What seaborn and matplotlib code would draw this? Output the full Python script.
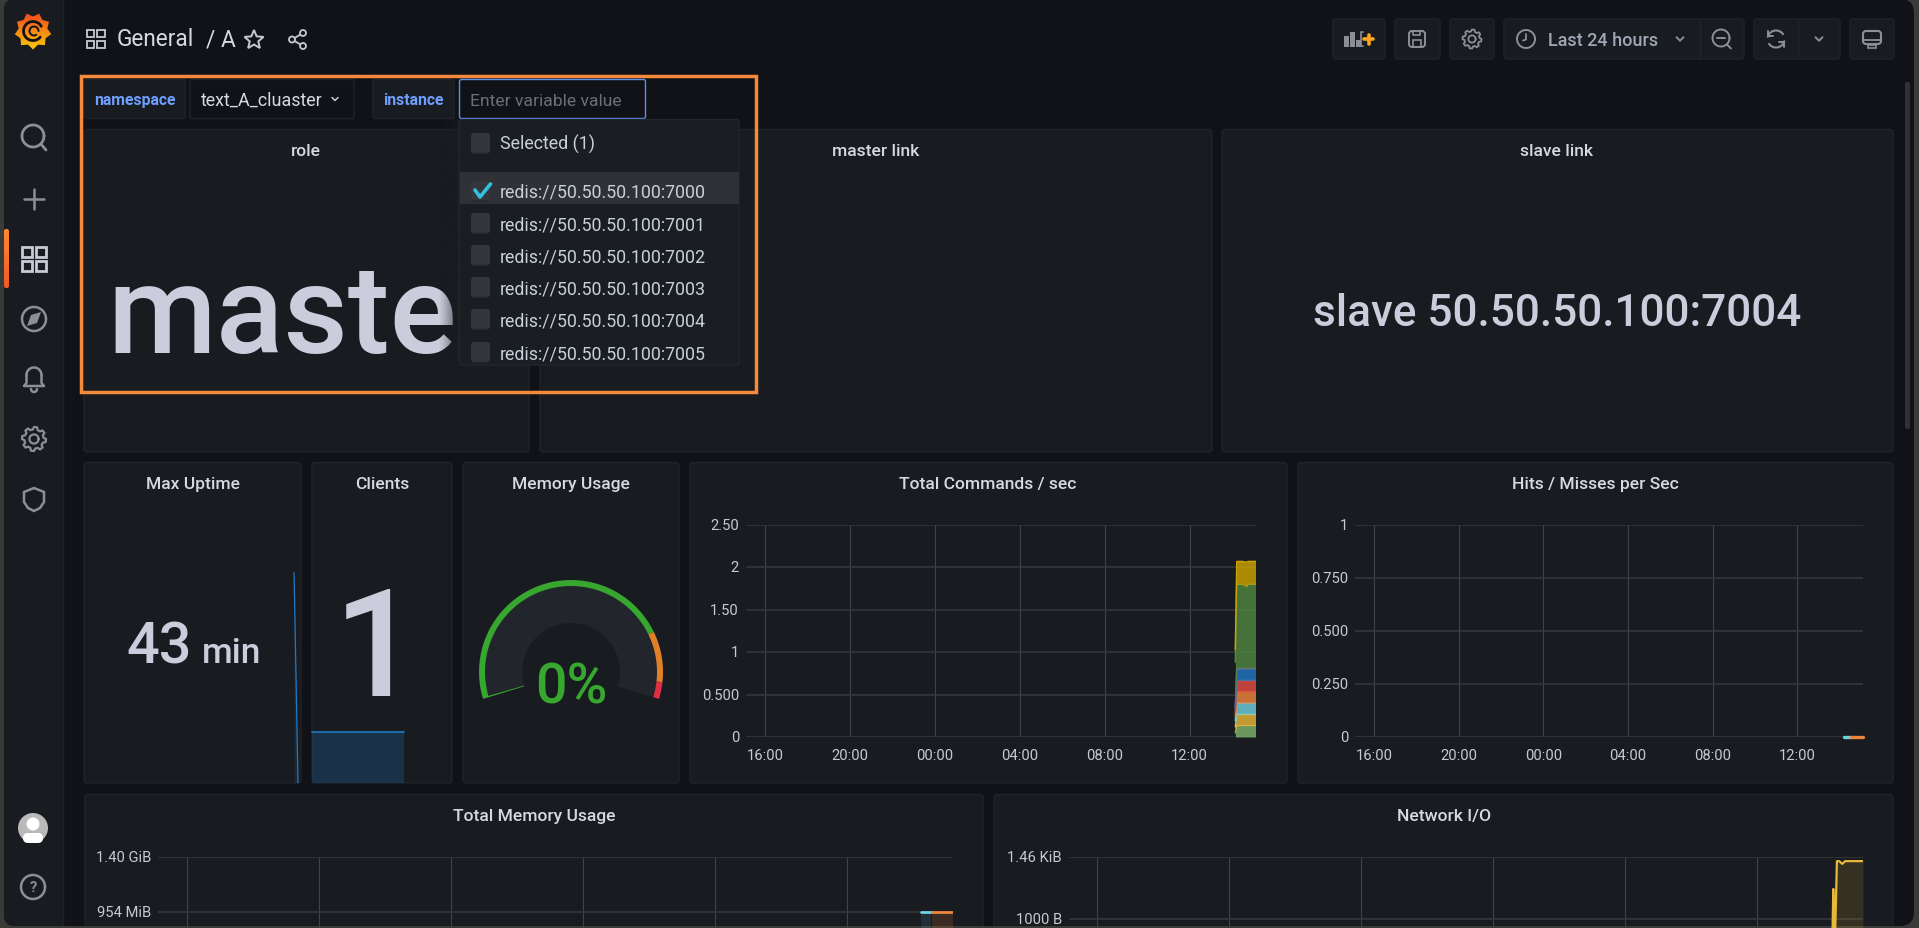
import numpy as np
import pandas as pd
import matplotlib
matplotlib.use("Agg")
import matplotlib.pyplot as plt
from matplotlib.patches import FancyBboxPatch, Polygon, Circle, Rectangle
from matplotlib.colors import LinearSegmentedColormap
from matplotlib.transforms import ScaledTranslation
import seaborn as sns

# ---------- data ----------
time_ticks = [16, 20, 24, 28, 32, 36]
time_labels = ["16:00", "20:00", "00:00", "04:00", "08:00", "12:00"]

cmd_times = [38.15, 38.22, 38.5, 38.68, 38.74, 39.1]
cmd_green = [0.05, 0.133, 0.133, 0.133, 0.133, 0.133]
cmd_gold = [0.07, 0.134, 0.134, 0.134, 0.134, 0.134]
cmd_cyan = [0.07, 0.133, 0.133, 0.133, 0.133, 0.133]
cmd_orange = [0.05, 0.133, 0.133, 0.133, 0.133, 0.133]
cmd_red = [0.06, 0.134, 0.134, 0.134, 0.134, 0.134]
cmd_blue = [0.03, 0.133, 0.133, 0.133, 0.133, 0.133]
cmd_purple = [0.02, 0.01, 0.01, 0.01, 0.01, 0.01]
cmd_dkgreen = [0.53, 0.99, 0.99, 0.96, 0.99, 0.99]
cmd_dkgold = [0.15, 0.27, 0.27, 0.29, 0.27, 0.27]
cmd_series = [cmd_green, cmd_gold, cmd_cyan, cmd_orange, cmd_red, cmd_blue,
              cmd_purple, cmd_dkgreen, cmd_dkgold]
cmd_colors = ["#7eb26d", "#eab839", "#6ed0e0", "#ef843c", "#e24d42", "#1f78c1",
              "#705da0", "#508642", "#cca300"]
cmd_ticks = [0, 0.5, 1, 1.5, 2, 2.5]
cmd_ticklabels = ["0", "0.500", "1", "1.50", "2", "2.50"]

hits_ticks = [0, 0.25, 0.5, 0.75, 1]
hits_ticklabels = ["0", "0.250", "0.500", "0.750", "1"]
hits_a_t = [38.2, 38.55]
hits_a = [0, 0]
hits_b_t = [38.55, 39.1]
hits_b = [0, 0]

mem_a_t = [38.24, 38.54]
mem_a = [950, 950]
mem_b_t = [38.57, 39.2]
mem_b = [950, 950]
mem_ticks = [954, 1433.6]
mem_ticklabels = ["954 MiB", "1.40 GiB"]

net_t = [38.27, 38.30, 38.35, 38.41, 38.48, 38.57, 38.66, 39.2]
net_v = [800, 1240, 800, 1462, 1462, 1440, 1462, 1462]
net_ticks = [1000, 1495]
net_ticklabels = ["1000 B", "1.46 KiB"]

uptime_t = [38.33, 38.77]
uptime_v = [43, 0]
clients_t = [15.1, 30.85]
clients_v = [1, 1]

gauge_value = 0
gauge_limits = [0, 80, 95, 100]
gauge_colors = ["#37a72f", "#e0802b", "#e02f44"]

instances = ["redis://50.50.50.100:7000", "redis://50.50.50.100:7001",
             "redis://50.50.50.100:7002", "redis://50.50.50.100:7003",
             "redis://50.50.50.100:7004", "redis://50.50.50.100:7005"]

# ---------- style ----------
W, H = 1919, 929
BG = "#111217"; PANEL = "#181b1f"; EDGE = "#212327"; ICON = "#8e8f96"; TXT = "#ccccdc"
GRID_H = "#35383c"; GRID_V = "#3f4246"; TICK = "#c7cad0"
sns.set_theme(style="dark", rc={"figure.facecolor": BG, "axes.facecolor": "none",
                                "savefig.facecolor": BG})
plt.rcParams["font.family"] = ["Roboto", "DejaVu Sans"]

fig = plt.figure(figsize=(W / 100, H / 100), dpi=100)


def overlay(z):
    a = fig.add_axes([0, 0, 1, 1], zorder=z)
    a.set_xlim(0, W); a.set_ylim(H, 0); a.axis("off"); a.set_autoscale_on(False)
    return a


under = overlay(0)
top = overlay(5)


def box(a, x0, y0, x1, y1, fc, ec="none", r=3, lw=1.0, z=1):
    a.add_patch(FancyBboxPatch((x0, y0), x1 - x0, y1 - y0, boxstyle=f"round,pad=0,rounding_size={r}",
                               fc=fc, ec=ec, lw=lw, zorder=z))


def arc_pts(cx, cy, r, a0, a1, n=60):
    th = np.radians(np.linspace(a0, a1, n))
    return cx + r * np.cos(th), cy - r * np.sin(th)


def arc(a, cx, cy, r, a0=0, a1=360, c=ICON, lw=2, z=3):
    x, y = arc_pts(cx, cy, r, a0, a1)
    a.plot(x, y, color=c, lw=lw, zorder=z, solid_capstyle="round")


def seg(a, xs, ys, c=ICON, lw=2, z=3):
    a.plot(xs, ys, color=c, lw=lw, zorder=z, solid_capstyle="round", solid_joinstyle="round")


def ring(a, cx, cy, r0, r1, a0, a1, c, z=2):
    xo, yo = arc_pts(cx, cy, r1, a0, a1)
    xi, yi = arc_pts(cx, cy, r0, a1, a0)
    a.add_patch(Polygon(np.c_[np.r_[xo, xi], np.r_[yo, yi]], fc=c, ec="none", zorder=z))


def gridicon(a, cx, cy, s, c=ICON, lw=2):
    q = s * 0.40
    for dx in (-s / 2, s / 2 - q):
        for dy in (-s / 2, s / 2 - q):
            a.add_patch(Rectangle((cx + dx, cy + dy), q, q, fc="none", ec=c, lw=lw, zorder=3))


def gear(a, cx, cy, r, c=ICON, lw=1.8):
    ang = np.radians(np.arange(0, 360, 7.5))
    rr = r * np.where((np.arange(48) % 6) < 3, 1.0, 0.8)
    a.add_patch(Polygon(np.c_[cx + rr * np.cos(ang), cy + rr * np.sin(ang)], fc="none", ec=c, lw=lw, zorder=3))
    arc(a, cx, cy, r * 0.38, c=c, lw=lw)


def chevron(a, cx, cy, s=3.5, c=ICON, lw=1.4):
    seg(a, [cx - s, cx, cx + s], [cy - s / 2, cy + s / 2, cy - s / 2], c=c, lw=lw)


def gradient(a, x0, y0, x1, y1, c0, c1, clip=None, z=2):
    cm = LinearSegmentedColormap.from_list("g", [c0, c1])
    im = a.imshow(np.linspace(0, 1, 64)[:, None], extent=(x0, x1, y1, y0), cmap=cm, aspect="auto", zorder=z)
    a.set_xlim(0, W); a.set_ylim(H, 0)
    if clip is not None:
        im.set_clip_path(clip)


# ---------- window & sidebar ----------
under.add_patch(Rectangle((0, 0), W, H, fc="#3a3a38", ec="none", zorder=0))
box(under, 4, 0, 1914, 927, BG, r=14, z=0.5)
box(under, 4, 0, 63, 927, PANEL, r=10, z=0.6)
under.add_patch(Rectangle((20, 0), 43, 927, fc=PANEL, ec="none", zorder=0.6))
under.plot([63, 63], [0, 927], color="#202226", lw=1, zorder=0.7)

# logo
ang = np.radians(np.arange(0, 360, 20) + 10)
rad = np.where(np.arange(18) % 2 == 0, 18.5, 14.5)
logo = Polygon(np.c_[33 + rad * np.cos(ang), 32 + rad * np.sin(ang)], fc="none", ec="none", transform=under.transData)
under.add_patch(logo)
gradient(under, 14, 13, 52, 51, "#f0471f", "#fbca0a", clip=logo, z=2)
arc(under, 33, 32, 9.5, 30, 320, c=BG, lw=2)
arc(under, 34, 32, 4.5, 0, 300, c=BG, lw=1.4)

# active marker
marker = FancyBboxPatch((4, 230), 5, 59, boxstyle="round,pad=0,rounding_size=2", fc="none", ec="none",
                        transform=under.transData)
under.add_patch(marker)
gradient(under, 4, 230, 9, 289, "#ff8833", "#f05a28", clip=marker, z=2)

arc(under, 33, 137, 11, c=ICON, lw=2.0)
seg(under, [41, 46], [145, 151], lw=2.0)
seg(under, [24, 44], [200, 200], lw=1.8)
seg(under, [34, 34], [190, 210], lw=1.8)
gridicon(under, 34, 260, 24, c="#c9cad6", lw=2.0)
arc(under, 34, 320, 12, c=ICON, lw=1.8)
under.add_patch(Polygon([(41, 313), (37, 324), (27, 327), (31, 316)], fc=ICON, ec="none", zorder=3))
arc(under, 34, 376, 7.5, 0, 180, lw=1.8)
seg(under, [26.5, 26.5, 24, 44, 41.5, 41.5], [376, 384, 387, 387, 384, 376], lw=1.8)
arc(under, 34, 390, 3, 180, 360, lw=1.8)
gear(under, 34, 440, 12, lw=1.6)
under.add_patch(Polygon([(34, 489), (44, 493), (44, 503), (40, 509), (34, 512), (28, 509), (24, 503), (24, 493)],
                        fc="none", ec=ICON, lw=1.8, zorder=3))
under.add_patch(Circle((33, 829), 15, fc="#b9b9b9", ec="none", zorder=3))
under.add_patch(Circle((33, 825), 6.5, fc="white", ec="none", zorder=3))
under.add_patch(FancyBboxPatch((23, 834), 20, 10, boxstyle="round,pad=0,rounding_size=5", fc="white", ec="none", zorder=3))
arc(under, 33, 888, 12, c=ICON, lw=1.8)
under.text(33, 888.5, "?", color=ICON, fontsize=10.5, weight="bold", ha="center", va="center", zorder=3)

# ---------- header ----------
gridicon(under, 95.5, 40, 18, c="#c7c8d2", lw=1.3)
under.text(117, 46, "General", color="#d8d9e0", fontsize=16.3, va="baseline", ha="left")
under.text(206, 46, "/ A", color="#d8d9e0", fontsize=16.3, va="baseline", ha="left")
star_a = np.radians(np.arange(0, 360, 36) - 90)
star_r = np.where(np.arange(10) % 2 == 0, 10, 4.5)
under.add_patch(Polygon(np.c_[254 + star_r * np.cos(star_a), 41 + star_r * np.sin(star_a)], fc="none",
                        ec="#c7c8d2", lw=1.4, zorder=3))
seg(under, [303, 292, 303], [34, 40.5, 47], c="#c7c8d2", lw=1.3)
for px, py in [(303, 34), (292, 40.5), (303, 47)]:
    under.add_patch(Circle((px, py), 3, fc=BG, ec="#c7c8d2", lw=1.3, zorder=4))

for x0, x1 in [(1333, 1385), (1395, 1440), (1450, 1494), (1504, 1744), (1754, 1840), (1850, 1894)]:
    box(under, x0, 20, x1, 60, PANEL, EDGE, r=3)
under.plot([1700, 1700], [20, 60], color=EDGE, lw=1.0, zorder=2)
under.plot([1798, 1798], [20, 60], color=EDGE, lw=1.0, zorder=2)
for bx, bt, bb in [(1344, 37, 48), (1350, 33, 48), (1356, 41, 48)]:
    under.add_patch(Rectangle((bx, bt), 4.5, bb - bt, fc=ICON, ec="none", zorder=3))
seg(under, [1363, 1361, 1361, 1363], [33, 33, 47, 47], lw=1.2)
seg(under, [1364, 1373], [40, 40], c="#ffa51f", lw=2.6)
seg(under, [1368.5, 1368.5], [35.5, 44.5], c="#ffa51f", lw=2.6)
box(under, 1409, 32, 1425, 48, "none", ICON, r=3, lw=1.4, z=3)
under.add_patch(Rectangle((1413, 41), 8, 7, fc="none", ec=ICON, lw=1.2, zorder=3))
seg(under, [1413, 1413, 1420, 1420], [32, 36, 36, 32], lw=1.2)
gear(under, 1472, 40, 9.5, lw=1.3)
arc(under, 1526, 40, 9, lw=1.4)
seg(under, [1526, 1526, 1523], [35, 40.5, 41.5], lw=1.3)
under.text(1548, 46, "Last 24 hours", color="#9ea7b6", fontsize=13, weight=500, va="baseline", ha="left", zorder=3)
chevron(under, 1680, 40)
arc(under, 1721, 39, 8.5, lw=1.4)
seg(under, [1717, 1725], [39, 39], lw=1.4)
seg(under, [1727, 1731], [45.5, 49.5], lw=1.4)
arc(under, 1776, 40, 8.5, 35, 165, lw=1.5)
arc(under, 1776, 40, 8.5, 215, 345, lw=1.5)
seg(under, [1768, 1768, 1773], [32, 37, 37], lw=1.4)
seg(under, [1784, 1784, 1779], [48, 43, 43], lw=1.4)
chevron(under, 1819, 40)
box(under, 1863, 32, 1881, 45, "none", ICON, r=3, lw=1.5, z=3)
seg(under, [1864, 1880], [41, 41], lw=1.3)
under.add_patch(Rectangle((1868, 46), 8, 3, fc="none", ec=ICON, lw=1.2, zorder=3))

# ---------- panels ----------
panels = [(84, 130.5, 529, 453, "role", 306), (540, 130.5, 1212, 453, "master link", 876),
          (1222, 130.5, 1893, 453, "slave link", 1557),
          (84, 463.5, 301, 784, "Max Uptime", 193), (312, 463.5, 452, 784, "Clients", 382),
          (463, 463.5, 679, 784, "Memory Usage", 571), (690, 463.5, 1287, 784, "Total Commands / sec", 988),
          (1298, 463.5, 1893, 784, "Hits / Misses per Sec", 1595),
          (85, 795.5, 983, 960, "Total Memory Usage", 534), (994, 795.5, 1893, 960, "Network I/O", 1444)]
for x0, y0, x1, y1, title, tx in panels:
    box(under, x0, y0, x1, y1, PANEL, EDGE, r=3)
    under.text(tx, y0 + 25.5, title, color="#d8d9e0", fontsize=12.6, weight=500, ha="center", va="baseline", zorder=3)
under.add_patch(Rectangle((0, 927), W, 2, fc="#3a3a38", ec="none", zorder=4))

# big values
under.text(107, 353, "master", color=TXT, fontsize=90, weight=500, ha="left", va="baseline", zorder=3)
under.text(1557.5, 326, "slave 50.50.50.100:7004", color=TXT, fontsize=31.8, weight=500, ha="center", va="baseline", zorder=3)
under.text(126, 663, "43", color=TXT, fontsize=41.5, weight=500, ha="left", va="baseline", zorder=3)
under.text(202, 663, "min", color=TXT, fontsize=25.5, weight=500, ha="left", va="baseline", zorder=3)
under.text(376, 696, "1", color=TXT, fontsize=108, weight=500, ha="center", va="baseline", zorder=3)

# gauge
gx, gy = 571, 673


def gauge_angle(v):
    return 197 - v / 100 * 214


ring(under, gx, gy, 49, 87, gauge_angle(0), gauge_angle(100), "#22252b")
for lo, hi, col in zip(gauge_limits[:-1], gauge_limits[1:], gauge_colors):
    ring(under, gx, gy, 86, 92, gauge_angle(lo), gauge_angle(hi), col, z=3)
ring(under, gx, gy, 49, 87, gauge_angle(gauge_value), gauge_angle(gauge_value + 0.4), "#37a72f", z=3)
under.text(571, 704, f"{gauge_value}%", color="#37a72f", fontsize=40, weight=500, ha="center", va="baseline", zorder=4)


# ---------- chart axes ----------
def chart(x0, y0, x1, y1, xlim, ylim):
    a = fig.add_axes([x0 / W, 1 - y1 / H, (x1 - x0) / W, (y1 - y0) / H], zorder=2)
    a.set_xlim(*xlim); a.set_ylim(*ylim); a.patch.set_alpha(0)
    for s in a.spines.values():
        s.set_visible(False)
    a.set_xlabel(""); a.set_ylabel("")
    return a


up = ScaledTranslation(0, 1.5 / 100, fig.dpi_scale_trans)


def finish(a, yt, yl, xlabels=True):
    a.set_xticks(time_ticks)
    a.set_xticklabels(time_labels if xlabels else [])
    a.set_yticks(yt); a.set_yticklabels(yl)
    a.set_xlabel(""); a.set_ylabel("")
    a.tick_params(length=0, colors=TICK, labelsize=10.6)
    a.tick_params(axis="y", pad=5)
    a.tick_params(axis="x", pad=8)
    for lab in a.get_yticklabels():
        lab.set_transform(lab.get_transform() + up)
    a.grid(True, axis="y", color=GRID_H, lw=1.1)
    a.grid(True, axis="x", color=GRID_V, lw=0.8)
    a.set_axisbelow(True)


def line(a, t, v, c, lw, clip=True):
    sns.lineplot(x=t, y=v, ax=a, color=c, lw=lw, estimator=None, sort=False, legend=False, clip_on=clip)


XL = (15.1, 39.1)

# Total commands
ac = chart(746, 526, 1255.5, 738, XL, (0, 2.5))
base = np.zeros(len(cmd_times))
for vals, col in zip(cmd_series, cmd_colors):
    upper = base + np.array(vals)
    ac.fill_between(cmd_times, base, upper, color=col, alpha=0.82, lw=0, zorder=3)
    line(ac, cmd_times, upper, col, 1.1)
    base = upper
finish(ac, cmd_ticks, cmd_ticklabels)

# Hits
ah = chart(1355, 526, 1863, 738, XL, (0, 1))
finish(ah, hits_ticks, hits_ticklabels)
line(ah, hits_a_t, hits_a, "#6ed0e0", 2.4, clip=False)
line(ah, hits_b_t, hits_b, "#ef843c", 2.4, clip=False)

# Memory
am = chart(158, 858, 953, 929, (15.12, 39.2), (814.5, 1433.6))
am.fill_between(mem_a_t, 0, mem_a, color="#6ed0e0", alpha=0.12, lw=0)
am.fill_between(mem_b_t, 0, mem_b, color="#ef843c", alpha=0.16, lw=0)
line(am, mem_a_t, mem_a, "#6ed0e0", 2.0)
line(am, mem_b_t, mem_b, "#ef843c", 2.0)
finish(am, mem_ticks, mem_ticklabels, xlabels=False)

# Network
an = chart(1069, 858, 1863, 929, (15.15, 39.2), (928, 1495))
an.fill_between(net_t, 0, net_v, color="#eab839", alpha=0.14, lw=0)
line(an, net_t, net_v, "#eab839", 1.6)
finish(an, net_ticks, net_ticklabels, xlabels=False)

# Sparklines
au = chart(84, 573, 301, 784, XL, (0, 43))
au.fill_between(uptime_t, 0, uptime_v, color="#1f78c1", alpha=0.15, lw=0)
line(au, uptime_t, uptime_v, "#1f78c1", 0.9)
au.set_xticks([]); au.set_yticks([])
au.set_xlabel(""); au.set_ylabel("")

acl = chart(312, 733, 452, 784, XL, (0, 1))
acl.fill_between(clients_t, 0, clients_v, color="#1f78c1", alpha=0.25, lw=0)
line(acl, clients_t, clients_v, "#1f6eb0", 1.4, clip=False)
acl.set_xticks([]); acl.set_yticks([])
acl.set_xlabel(""); acl.set_ylabel("")

# ---------- variable bar & dropdown ----------
box(top, 84, 80.5, 185, 119.5, PANEL, EDGE, r=2)
top.text(134.5, 105, "namespace", color="#6e9fff", fontsize=11.3, weight=600, ha="center", va="baseline", zorder=3)
box(top, 190, 80.5, 354, 119.5, BG, EDGE, r=2)
top.text(201, 106, "text_A_cluaster", color="#d8d9e0", fontsize=12.9, ha="left", va="baseline", zorder=3)
chevron(top, 335, 100, s=3, c="#c7c8d2", lw=1.1)
box(top, 373, 80.5, 454, 119.5, PANEL, EDGE, r=2)
top.text(413.5, 105, "instance", color="#6e9fff", fontsize=11.3, weight=600, ha="center", va="baseline", zorder=3)
box(top, 459.5, 80.5, 645.5, 119.5, BG, "#5b8fe8", r=2, lw=1.0)
top.text(470, 106, "Enter variable value", color="#6c6f77", fontsize=12.6, ha="left", va="baseline", zorder=3)

shade = np.zeros((2, 32, 4)); shade[..., :3] = matplotlib.colors.to_rgb(PANEL)
shade[..., 3] = np.linspace(0, 0.75, 32) ** 1.3
top.imshow(shade, extent=(438, 459, 366, 120), aspect="auto", zorder=1)
top.set_xlim(0, W); top.set_ylim(H, 0)

box(top, 459, 120.5, 739, 366, "#1a1d22", "#23262b", r=2, z=2)
top.add_patch(Rectangle((460, 173), 278.5, 32, fc="#2f3136", ec="none", zorder=2.5))
rows_y = [192, 224, 256, 288, 320, 353]
rows_base = [197.5, 230, 262, 294, 326, 359]


def checkbox(y):
    box(top, 471, y - 10, 490, y + 11, "#26282d", "none", r=3, z=3)
    box(top, 471, y - 10, 490, y + 9.5, "#34363b", "none", r=3, z=3)


checkbox(144)
top.text(500, 150, "Selected (1)", color="#c7d0d9", fontsize=12.9, ha="left", va="baseline", zorder=3)
for name, y, b in zip(instances, rows_y, rows_base):
    checkbox(y)
    top.text(500, b, name, color="#c7d0d9", fontsize=12.8, ha="left", va="baseline", zorder=3)
seg(top, [475, 480, 490.5], [191, 198, 185], c="#33c1e0", lw=2.6, z=4)

# highlight frame
top.add_patch(Rectangle((80.5, 77), 675.5, 315.5, fc="none", ec="#f58a3c", lw=2.5, zorder=6))
# scrollbar
box(top, 1905, 83, 1910, 430, "#2f3136", "none", r=2, z=3)

fig.savefig("out.png", dpi=100, facecolor=BG)
